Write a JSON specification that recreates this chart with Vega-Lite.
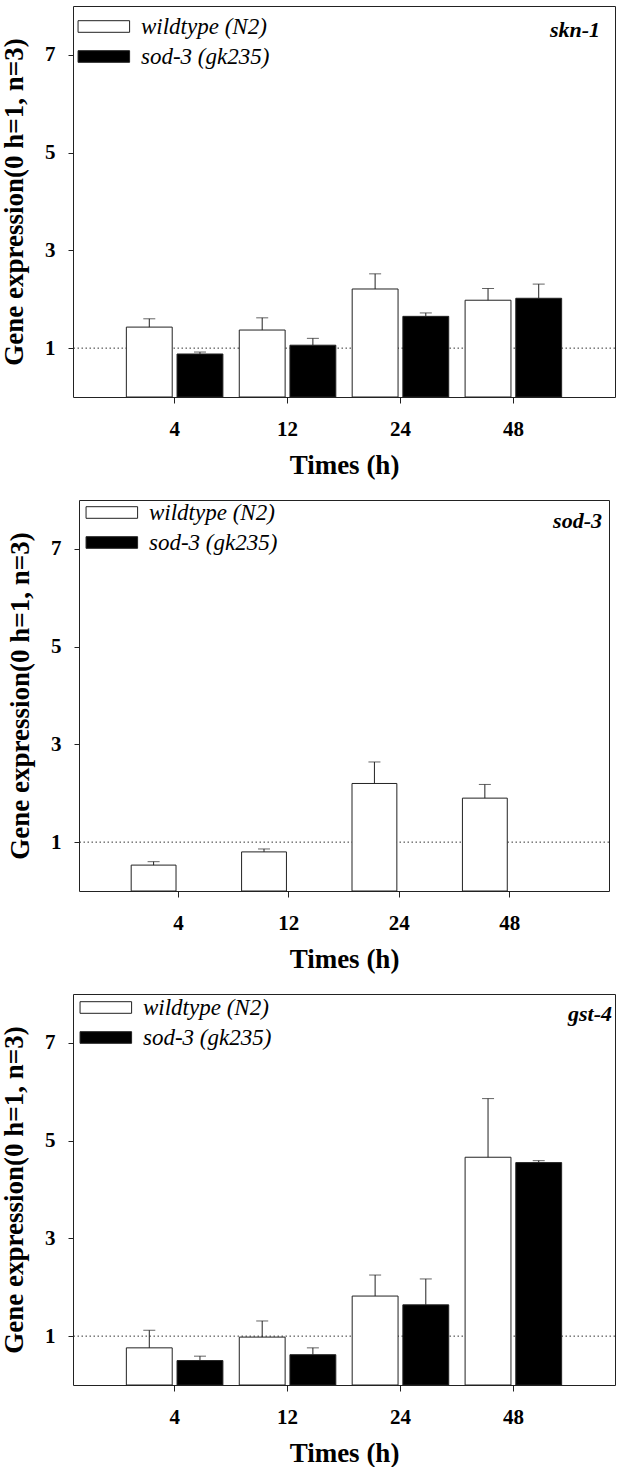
{
  "$schema": "https://vega.github.io/schema/vega-lite/v6.json",
  "background": "white",
  "padding": {"left": 0, "top": 5, "right": 0, "bottom": 0},
  "datasets": {
    "expr": [
      {"gene": "skn-1", "time": "4", "strain": "wildtype (N2)", "mean": 1.43, "upper": 1.60},
      {"gene": "skn-1", "time": "4", "strain": "sod-3 (gk235)", "mean": 0.88, "upper": 0.92},
      {"gene": "skn-1", "time": "12", "strain": "wildtype (N2)", "mean": 1.37, "upper": 1.62},
      {"gene": "skn-1", "time": "12", "strain": "sod-3 (gk235)", "mean": 1.06, "upper": 1.20},
      {"gene": "skn-1", "time": "24", "strain": "wildtype (N2)", "mean": 2.21, "upper": 2.52},
      {"gene": "skn-1", "time": "24", "strain": "sod-3 (gk235)", "mean": 1.65, "upper": 1.72},
      {"gene": "skn-1", "time": "48", "strain": "wildtype (N2)", "mean": 1.98, "upper": 2.22},
      {"gene": "skn-1", "time": "48", "strain": "sod-3 (gk235)", "mean": 2.02, "upper": 2.31},
      {"gene": "sod-3", "time": "4", "strain": "wildtype (N2)", "mean": 0.53, "upper": 0.60},
      {"gene": "sod-3", "time": "12", "strain": "wildtype (N2)", "mean": 0.80, "upper": 0.86},
      {"gene": "sod-3", "time": "24", "strain": "wildtype (N2)", "mean": 2.20, "upper": 2.64},
      {"gene": "sod-3", "time": "48", "strain": "wildtype (N2)", "mean": 1.90, "upper": 2.18},
      {"gene": "gst-4", "time": "4", "strain": "wildtype (N2)", "mean": 0.76, "upper": 1.12},
      {"gene": "gst-4", "time": "4", "strain": "sod-3 (gk235)", "mean": 0.50, "upper": 0.59},
      {"gene": "gst-4", "time": "12", "strain": "wildtype (N2)", "mean": 0.98, "upper": 1.31},
      {"gene": "gst-4", "time": "12", "strain": "sod-3 (gk235)", "mean": 0.62, "upper": 0.76},
      {"gene": "gst-4", "time": "24", "strain": "wildtype (N2)", "mean": 1.82, "upper": 2.25},
      {"gene": "gst-4", "time": "24", "strain": "sod-3 (gk235)", "mean": 1.64, "upper": 2.17},
      {"gene": "gst-4", "time": "48", "strain": "wildtype (N2)", "mean": 4.66, "upper": 5.86},
      {"gene": "gst-4", "time": "48", "strain": "sod-3 (gk235)", "mean": 4.55, "upper": 4.59}
    ],
    "ref": [{"baseline": 1}]
  },
  "spacing": 20,
  "center": true,
  "resolve": {"scale": {"fill": "independent", "x": "independent", "xOffset": "independent", "y": "independent"}, "legend": {"fill": "independent"}},
  "vconcat": [
    {
      "width": 542, "height": 391,
      "layer": [
        {"data": {"name": "ref"}, "mark": {"type": "rule", "strokeDash": [1.5, 2.5], "color": "#333", "strokeWidth": 1}, "encoding": {"y": {"field": "baseline", "type": "quantitative", "scale": {"domain": [0, 8]}}}},
        {"data": {"name": "expr"}, "transform": [{"filter": "datum.gene === 'skn-1'"}],
         "mark": {"type": "bar", "stroke": "#222", "strokeWidth": 1},
         "encoding": {
           "x": {"field": "time", "type": "ordinal", "sort": ["4", "12", "24", "48"], "scale": {"paddingInner": 0.145, "paddingOuter": 0.4725}, "axis": {"title": "Times (h)"}},
           "xOffset": {"field": "strain", "sort": ["wildtype (N2)", "sod-3 (gk235)"], "scale": {"domain": ["wildtype (N2)", "sod-3 (gk235)"], "paddingInner": 0.095, "paddingOuter": 0}},
           "y": {"field": "mean", "type": "quantitative", "scale": {"domain": [0, 8]}, "axis": {"title": "Gene expression(0 h=1, n=3)", "values": [1, 3, 5, 7]}},
           "fill": {"field": "strain", "type": "nominal", "scale": {"domain": ["wildtype (N2)", "sod-3 (gk235)"], "range": ["white", "black"]}, "legend": {"orient": "none", "legendX": 0, "legendY": 9}}
         }},
        {"data": {"name": "expr"}, "transform": [{"filter": "datum.gene === 'skn-1'"}],
         "mark": {"type": "rule", "color": "#222", "strokeWidth": 1},
         "encoding": {
           "x": {"field": "time", "type": "ordinal", "sort": ["4", "12", "24", "48"]},
           "xOffset": {"field": "strain", "sort": ["wildtype (N2)", "sod-3 (gk235)"]},
           "y": {"field": "mean", "type": "quantitative"},
           "y2": {"field": "upper"}
         }},
        {"data": {"name": "expr"}, "transform": [{"filter": "datum.gene === 'skn-1'"}],
         "mark": {"type": "tick", "orient": "horizontal", "size": 12, "thickness": 1, "color": "#222"},
         "encoding": {
           "x": {"field": "time", "type": "ordinal", "sort": ["4", "12", "24", "48"]},
           "xOffset": {"field": "strain", "sort": ["wildtype (N2)", "sod-3 (gk235)"]},
           "y": {"field": "upper", "type": "quantitative"}
         }},
        {"data": {"values": [{"gene": "skn-1"}]},
         "mark": {"type": "text", "align": "right", "baseline": "middle", "dx": -15, "font": "Liberation Serif", "fontSize": 22, "fontStyle": "italic", "fontWeight": "bold", "color": "black"},
         "encoding": {"x": {"value": "width"}, "y": {"datum": 7.5}, "text": {"field": "gene"}}}
      ]
    },
    {
      "width": 530, "height": 391,
      "layer": [
        {"data": {"name": "ref"}, "mark": {"type": "rule", "strokeDash": [1.5, 2.5], "color": "#333", "strokeWidth": 1}, "encoding": {"y": {"field": "baseline", "type": "quantitative", "scale": {"domain": [0, 8]}}}},
        {"data": {"name": "expr"}, "transform": [{"filter": "datum.gene === 'sod-3'"}],
         "mark": {"type": "bar", "stroke": "#222", "strokeWidth": 1},
         "encoding": {
           "x": {"field": "time", "type": "ordinal", "sort": ["4", "12", "24", "48"], "scale": {"paddingInner": 0.145, "paddingOuter": 0.4725}, "axis": {"title": "Times (h)"}},
           "xOffset": {"field": "strain", "sort": ["wildtype (N2)", "sod-3 (gk235)"], "scale": {"domain": ["wildtype (N2)", "sod-3 (gk235)"], "paddingInner": 0.095, "paddingOuter": 0}},
           "y": {"field": "mean", "type": "quantitative", "scale": {"domain": [0, 8]}, "axis": {"title": "Gene expression(0 h=1, n=3)", "values": [1, 3, 5, 7]}},
           "fill": {"field": "strain", "type": "nominal", "scale": {"domain": ["wildtype (N2)", "sod-3 (gk235)"], "range": ["white", "black"]}, "legend": {"orient": "none", "legendX": 2, "legendY": 1}}
         }},
        {"data": {"name": "expr"}, "transform": [{"filter": "datum.gene === 'sod-3'"}],
         "mark": {"type": "rule", "color": "#222", "strokeWidth": 1},
         "encoding": {
           "x": {"field": "time", "type": "ordinal", "sort": ["4", "12", "24", "48"]},
           "xOffset": {"field": "strain", "sort": ["wildtype (N2)", "sod-3 (gk235)"]},
           "y": {"field": "mean", "type": "quantitative"},
           "y2": {"field": "upper"}
         }},
        {"data": {"name": "expr"}, "transform": [{"filter": "datum.gene === 'sod-3'"}],
         "mark": {"type": "tick", "orient": "horizontal", "size": 12, "thickness": 1, "color": "#222"},
         "encoding": {
           "x": {"field": "time", "type": "ordinal", "sort": ["4", "12", "24", "48"]},
           "xOffset": {"field": "strain", "sort": ["wildtype (N2)", "sod-3 (gk235)"]},
           "y": {"field": "upper", "type": "quantitative"}
         }},
        {"data": {"values": [{"gene": "sod-3"}]},
         "mark": {"type": "text", "align": "right", "baseline": "middle", "dx": -7, "dy": -3, "font": "Liberation Serif", "fontSize": 22, "fontStyle": "italic", "fontWeight": "bold", "color": "black"},
         "encoding": {"x": {"value": "width"}, "y": {"datum": 7.5}, "text": {"field": "gene"}}}
      ]
    },
    {
      "width": 542, "height": 391,
      "layer": [
        {"data": {"name": "ref"}, "mark": {"type": "rule", "strokeDash": [1.5, 2.5], "color": "#333", "strokeWidth": 1}, "encoding": {"y": {"field": "baseline", "type": "quantitative", "scale": {"domain": [0, 8]}}}},
        {"data": {"name": "expr"}, "transform": [{"filter": "datum.gene === 'gst-4'"}],
         "mark": {"type": "bar", "stroke": "#222", "strokeWidth": 1},
         "encoding": {
           "x": {"field": "time", "type": "ordinal", "sort": ["4", "12", "24", "48"], "scale": {"paddingInner": 0.145, "paddingOuter": 0.4725}, "axis": {"title": "Times (h)"}},
           "xOffset": {"field": "strain", "sort": ["wildtype (N2)", "sod-3 (gk235)"], "scale": {"domain": ["wildtype (N2)", "sod-3 (gk235)"], "paddingInner": 0.095, "paddingOuter": 0}},
           "y": {"field": "mean", "type": "quantitative", "scale": {"domain": [0, 8]}, "axis": {"title": "Gene expression(0 h=1, n=3)", "values": [1, 3, 5, 7]}},
           "fill": {"field": "strain", "type": "nominal", "scale": {"domain": ["wildtype (N2)", "sod-3 (gk235)"], "range": ["white", "black"]}, "legend": {"orient": "none", "legendX": 2, "legendY": 2}}
         }},
        {"data": {"name": "expr"}, "transform": [{"filter": "datum.gene === 'gst-4'"}],
         "mark": {"type": "rule", "color": "#222", "strokeWidth": 1},
         "encoding": {
           "x": {"field": "time", "type": "ordinal", "sort": ["4", "12", "24", "48"]},
           "xOffset": {"field": "strain", "sort": ["wildtype (N2)", "sod-3 (gk235)"]},
           "y": {"field": "mean", "type": "quantitative"},
           "y2": {"field": "upper"}
         }},
        {"data": {"name": "expr"}, "transform": [{"filter": "datum.gene === 'gst-4'"}],
         "mark": {"type": "tick", "orient": "horizontal", "size": 12, "thickness": 1, "color": "#222"},
         "encoding": {
           "x": {"field": "time", "type": "ordinal", "sort": ["4", "12", "24", "48"]},
           "xOffset": {"field": "strain", "sort": ["wildtype (N2)", "sod-3 (gk235)"]},
           "y": {"field": "upper", "type": "quantitative"}
         }},
        {"data": {"values": [{"gene": "gst-4"}]},
         "mark": {"type": "text", "align": "right", "baseline": "middle", "dx": -3, "dy": -4, "font": "Liberation Serif", "fontSize": 22, "fontStyle": "italic", "fontWeight": "bold", "color": "black"},
         "encoding": {"x": {"value": "width"}, "y": {"datum": 7.5}, "text": {"field": "gene"}}}
      ]
    }
  ],
  "config": {
    "font": "Liberation Serif",
    "view": {"stroke": "#222", "strokeWidth": 1},
    "axis": {"domain": false, "grid": false, "labelFont": "Liberation Serif", "labelFontWeight": "bold", "labelFontSize": 21, "labelColor": "black", "titleFont": "Liberation Serif", "titleFontWeight": "bold", "titleColor": "black", "tickColor": "#222", "tickWidth": 1},
    "axisX": {"tickSize": 6, "labelPadding": 15, "titlePadding": 13, "titleFontSize": 27, "labelAngle": 0},
    "axisY": {"tickSize": 5, "labelPadding": 13, "titlePadding": 16, "titleFontSize": 27},
    "legend": {"title": null, "symbolType": "M-1,-0.9H7V0.9H-1Z", "symbolSize": 166, "symbolStrokeColor": "#222", "symbolStrokeWidth": 1, "symbolOpacity": 1, "labelFont": "Liberation Serif", "labelFontStyle": "italic", "labelFontSize": 23, "labelColor": "black", "labelOffset": 45, "rowPadding": 6, "padding": 0}
  }
}
